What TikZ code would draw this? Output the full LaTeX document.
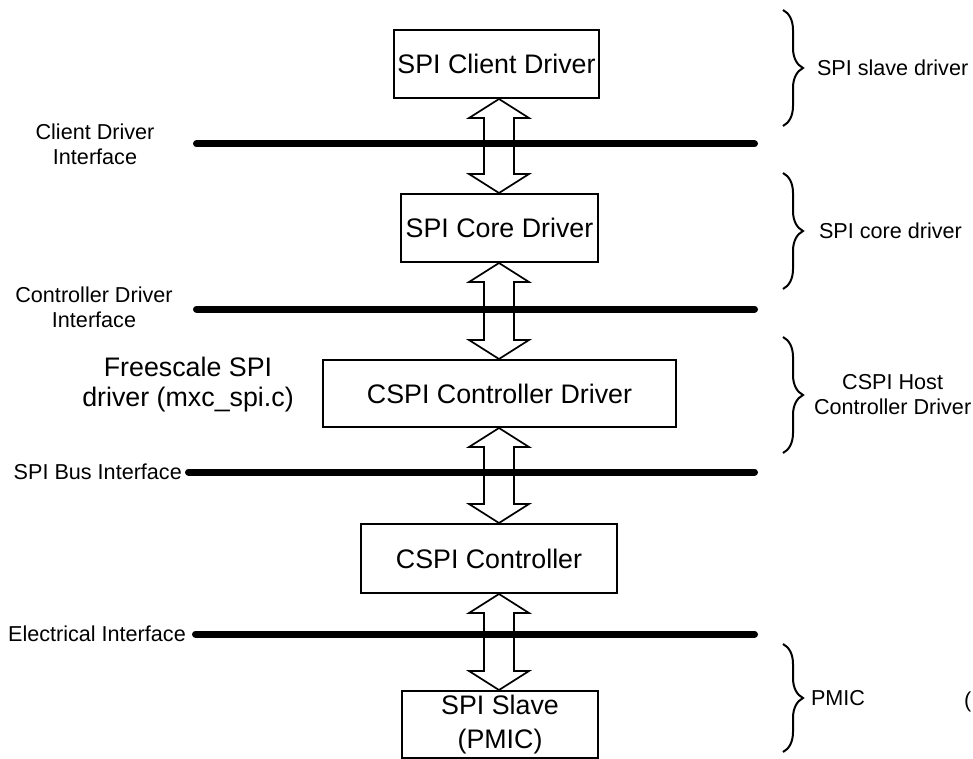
\documentclass[tikz,border=0pt]{standalone}
\usepackage{fontspec}
\setmainfont{Liberation Sans}
\usetikzlibrary{positioning,calc,decorations.pathreplacing}
\tikzset{main base/.style={draw,line width=2pt,text centered,align=center, }, }
\tikzset{main node/.style={rectangle,main base,inner sep=0pt,
    font=\fontsize{26.8}{34}\selectfont, minimum height=68pt}, }
\tikzset{side verb/.style={inner sep=0pt,align=center,
    font=\fontsize{21.6}{25}\selectfont}, }
\tikzset{linea/.style={line width=1.7pt,draw,line join=miter}}
\tikzset{bus/.style={line width=7pt,line cap=round,draw}}
\tikzset{graffa/.style={decorate,decoration={brace,amplitude=20pt},line width=2pt,draw}}

\begin{document}
\begin{tikzpicture}[x=1pt,y=-1pt]
 \useasboundingbox (0,0) rectangle (973,759);
 \coordinate (asse) at (499,0);
    \node[main node, minimum width=205pt] (1) at (496.5,64) {SPI Client Driver};
    \node[main node, minimum width=197pt] (2) [below=94pt of 1, xshift=3pt] {SPI Core Driver};
    \node[main node, minimum width=353pt, minimum height=67pt] (3) [below=96pt of 2] {CSPI Controller Driver};
    \node[main node, minimum width=256pt, minimum height=69pt] (4) [below=95pt of 3, xshift=-10.5pt] {CSPI Controller};
    \node[main node, minimum width=196pt, minimum height=67pt] (5) [below=96pt of 4, xshift=11pt] {SPI Slave\\(PMIC)};

%interfaces
\foreach \y/\x in {144/196.5,309/196.5,472/188.5,634/195.5}
  \draw[bus] (\x,\y) -- (754.5,\y);

\node[side verb] (6) at (95,144.5) {Client Driver\\Interface};
\node[side verb] (7) at (94,307.5) {Controller Driver\\Interface};
\node[side verb, anchor=east] (8) at (182,472) {SPI Bus Interface};
\node[side verb, anchor=east] (9) at (186,634) {Electrical Interface};
\node[side verb, font=\fontsize{26.8}{30}\selectfont] (10) at (188,385) {Freescale SPI\\driver (mxc\_spi.c)};

\foreach \x /\y in{1/2,2/3,3/4,4/5}
  \draw[linea] (\x.south -| asse) -- ++(30,19) -- ++(-15,0) -- ($(\y.north -| asse)+(15,-19)$)
    -- ++(15,0) -- (\y.north -| asse) -- ++(-30,-19) -- ++(15,0) -- ($(\x.south -| asse)+(-15,19)$)
    -- ++(-15,0) -- cycle;

%braces
\draw[graffa] (783,10) -- (783,126) node[side verb, midway, anchor=west, xshift=33pt] (11) {SPI slave driver};
\draw[graffa] (783,173) -- (783,289) node[side verb, midway, anchor=west, xshift=35pt] (12) {SPI core driver};
\draw[graffa] (783,337) -- (783,453) node[side verb, midway, anchor=west, xshift=30pt] (13) {CSPI Host\\Controller Driver};
\draw[graffa] (783,644) -- (783,752) node[side verb, midway, anchor=west, xshift=27pt] (14) {PMIC};
\node[side verb, anchor=west] (15) at (964,702) {(};
\end{tikzpicture}
\end{document}
